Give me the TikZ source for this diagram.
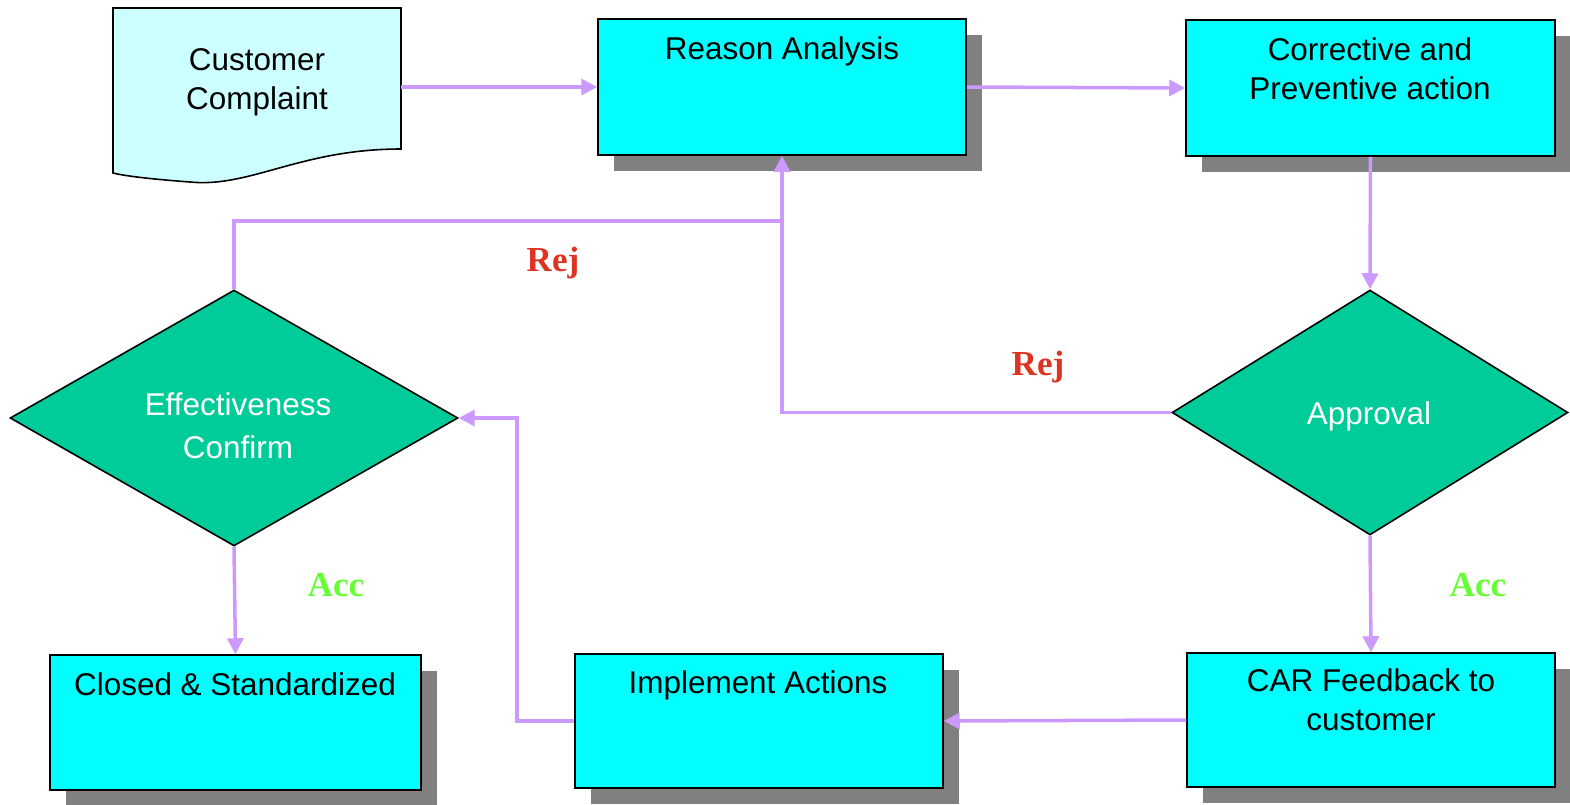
\documentclass[tikz,border=0pt]{standalone}
\usepackage{fontspec}
\setmainfont{Liberation Sans}
\newfontfamily\labserif{Liberation Serif}
\usetikzlibrary{arrows.meta,shapes.geometric,shadows}
\definecolor{boxcyan}{HTML}{00FFFF}
\definecolor{doccyan}{HTML}{CCFFFF}
\definecolor{dgreen}{HTML}{00CC99}
\definecolor{shadowgray}{HTML}{808080}
\definecolor{arrowc}{HTML}{CC99FF}
\definecolor{rejred}{HTML}{DD3322}
\definecolor{accgreen}{HTML}{66FF33}
\begin{document}
\begin{tikzpicture}[x=0.02cm,y=-0.02cm,
  procbox/.style={rectangle, draw=black, line width=0.9pt, fill=boxcyan, inner sep=0pt,
    drop shadow={shadow xshift=0.32cm, shadow yshift=-0.32cm, fill=shadowgray, opacity=1}},
  decision/.style={diamond, draw=black, line width=0.9pt, fill=dgreen, inner sep=0pt},
  txt/.style={font=\fontsize{17.9}{22.2}\selectfont, align=center, inner sep=0pt, text=black},
  wtxt/.style={txt, text=white},
  lab/.style={font=\labserif\bfseries\fontsize{20}{24}\selectfont, inner sep=0pt, anchor=base},
  line/.style={draw=arrowc, line width=2pt},
  conn/.style={line, -{Triangle[length=0.32cm, width=0.32cm]}}
]
\useasboundingbox (0,0) rectangle (1570,805);

% document shape
\draw[fill=doccyan, line width=0.9pt] (113,8) -- (401,8) -- (401,149)
  .. controls (300,149) and (250,188) .. (190,182)
  .. controls (150,179) and (125,176) .. (113,173) -- cycle;
\node[inner sep=0pt, minimum width=5.76cm, minimum height=3.16cm] (doc) at (257,87) {};
\node[txt] (doctext) at (257,82) {Customer\\Complaint};

% process boxes
\node[procbox, minimum width=7.36cm, minimum height=2.72cm] (reason) at (782,87) {};
\node[procbox, minimum width=7.38cm, minimum height=2.72cm] (corr) at (1370.5,88) {};
\node[procbox, minimum width=7.42cm, minimum height=2.70cm] (closed) at (235.5,722.5) {};
\node[procbox, minimum width=7.36cm, minimum height=2.68cm] (impl) at (759,721) {};
\node[procbox, minimum width=7.36cm, minimum height=2.68cm] (car) at (1371,720) {};

\node[txt, anchor=base] (reasontext) at (782,59) {Reason Analysis};
\node[txt] (corrtext) at (1370,68.5) {Corrective and\\Preventive action};
\node[txt, anchor=base] (closedtext) at (235,695) {Closed \& Standardized};
\node[txt, anchor=base] (impltext) at (758,693) {Implement Actions};
\node[txt] (cartext) at (1371,700) {CAR Feedback to\\customer};

% decisions
\node[decision, minimum width=7.92cm, minimum height=4.90cm] (appr) at (1370,412.5) {};
\node[decision, minimum width=8.96cm, minimum height=5.12cm] (eff) at (234,418) {};
\node[wtxt, anchor=base] (apprtext) at (1369,424) {Approval};
\node[wtxt, font=\fontsize{17.9}{24.4}\selectfont] (efftext) at (238,426) {Effectiveness\\Confirm};

% connectors
\coordinate (rj) at (782,221);
\coordinate (ik) at (517,721);
\draw[conn] (doc.east) -- (reason.west);
\draw[conn] (reason.east) -- (corr.west);
\draw[conn] (corr.south) -- (appr.north);
\draw[conn] (appr.west) -| (reason.south);
\draw[line] (eff.north) |- (rj);
\draw[conn] (appr.south) -- (car.north);
\draw[conn] (car.west) -- (impl.east);
\draw[conn] (impl.west) -- (ik) |- (eff.east);
\draw[conn] (eff.south) -- (closed.north);

% labels
\node[lab, text=rejred] (rej1) at (553,271) {Rej};
\node[lab, text=rejred] (rej2) at (1038,375) {Rej};
\node[lab, text=accgreen] (acc1) at (336,596) {Acc};
\node[lab, text=accgreen] (acc2) at (1478,596) {Acc};
\end{tikzpicture}
\end{document}
